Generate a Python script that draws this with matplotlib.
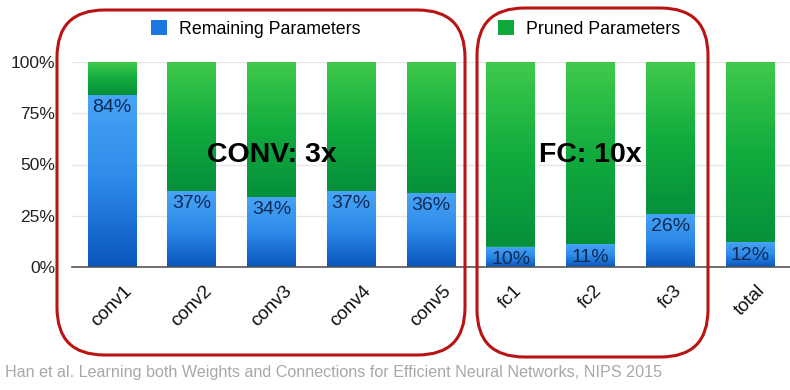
import matplotlib
matplotlib.use("Agg")
import matplotlib.pyplot as plt
import numpy as np
from matplotlib.patches import FancyBboxPatch, Patch
from matplotlib.colors import LinearSegmentedColormap

plt.rcParams['font.family'] = ['Liberation Sans', 'DejaVu Sans']

categories = ["conv1", "conv2", "conv3", "conv4", "conv5", "fc1", "fc2", "fc3", "total"]
remaining = [84, 37, 34, 37, 36, 10, 11, 26, 12]
pruned = [100 - v for v in remaining]
yticks = [0, 25, 50, 75, 100]
ytick_labels = ["0%", "25%", "50%", "75%", "100%"]
legend_labels = ["Remaining Parameters", "Pruned Parameters"]
group_labels = ["CONV: 3x", "FC: 10x"]
citation = "Han et al. Learning both Weights and Connections for Efficient Neural Networks, NIPS 2015"

W, H = 790, 390
fig = plt.figure(figsize=(W / 100, H / 100), dpi=100)
ax = fig.add_axes([72 / W, (H - 267) / H, (790 - 72) / W, (267 - 62) / H])

x = np.arange(len(categories))
bw = 0.61
blue_bars = ax.bar(x, remaining, width=bw, color="#1a78e0", zorder=2)
green_bars = ax.bar(x, pruned, bottom=remaining, width=bw, color="#10a83a", zorder=2)

blue_cmap = LinearSegmentedColormap.from_list("b", ["#0a56bc", "#2d8ae8", "#48a4f6"])
green_cmap = LinearSegmentedColormap.from_list("g", ["#06903a", "#12ac3e", "#40ca4c"])
grad = np.linspace(0, 1, 256).reshape(-1, 1)
for bars, cmap in ((blue_bars, blue_cmap), (green_bars, green_cmap)):
    for p in bars:
        x0, y0, w, h = p.get_x(), p.get_y(), p.get_width(), p.get_height()
        im = ax.imshow(grad, cmap=cmap, origin="lower", aspect="auto",
                       extent=[x0, x0 + w, y0, y0 + h], zorder=3)
        im.set_clip_path(p)

for xi, v in zip(x, remaining):
    ax.annotate(f"{v}%", (xi, v), xytext=(0, -3), textcoords="offset points",
                ha="center", va="top", fontsize=14, color="#0d2a55", zorder=5)

ax.set_xlim(-0.5, len(categories) - 0.5)
ax.set_ylim(0, 100)
ax.set_yticks(yticks)
ax.set_yticklabels(ytick_labels, fontsize=12.5, color="#222222")
ax.set_xticks(x)
ax.set_xticklabels(categories, rotation=45, ha="center", va="top", fontsize=13.5, color="#111111")
ax.tick_params(length=0, pad=11, axis="x")
ax.tick_params(length=0, pad=12, axis="y")
ax.yaxis.grid(True, color="#e6e6e6", linewidth=1)
ax.set_axisbelow(True)
for s in ["top", "right", "left"]:
    ax.spines[s].set_visible(False)
ax.spines["bottom"].set_color("#555555")
ax.spines["bottom"].set_linewidth(1.2)
ax.spines["bottom"].set_zorder(6)
ax.set_autoscale_on(False)

# group labels
ax.text(2.0, 54.5, group_labels[0], ha="center", va="center", fontsize=20.5,
        fontweight="bold", color="black", zorder=7)
ax.text(6.0, 54.5, group_labels[1], ha="center", va="center", fontsize=20.5,
        fontweight="bold", color="black", zorder=7)

# legends
leg1 = fig.legend(handles=[Patch(facecolor="#1a78e0")], labels=[legend_labels[0]],
                  loc="center left", bbox_to_anchor=(135 / W, (H - 29) / H), frameon=False,
                  fontsize=12.8, handlelength=0.9, handleheight=0.9, handletextpad=0.7)
leg2 = fig.legend(handles=[Patch(facecolor="#10a83a")], labels=[legend_labels[1]],
                  loc="center left", bbox_to_anchor=(482 / W, (H - 29) / H), frameon=False,
                  fontsize=12.8, handlelength=0.9, handleheight=0.9, handletextpad=0.7)

# red rounded boxes
for (l, t, r, b) in [(57, 10, 465, 355), (477, 8, 708, 357)]:
    box = FancyBboxPatch((l / W, (H - b) / H), (r - l) / W, (b - t) / H,
                         boxstyle="round,pad=0,rounding_size=0.06",
                         transform=fig.transFigure, fill=False,
                         edgecolor="#b81414", linewidth=2.2, zorder=10,
                         mutation_aspect=W / H)
    fig.add_artist(box)

fig.text(5 / W, (H - 372) / H, citation, ha="left", va="center", fontsize=11.6, color="#a8a8a8")

fig.savefig("out.png", dpi=100)
